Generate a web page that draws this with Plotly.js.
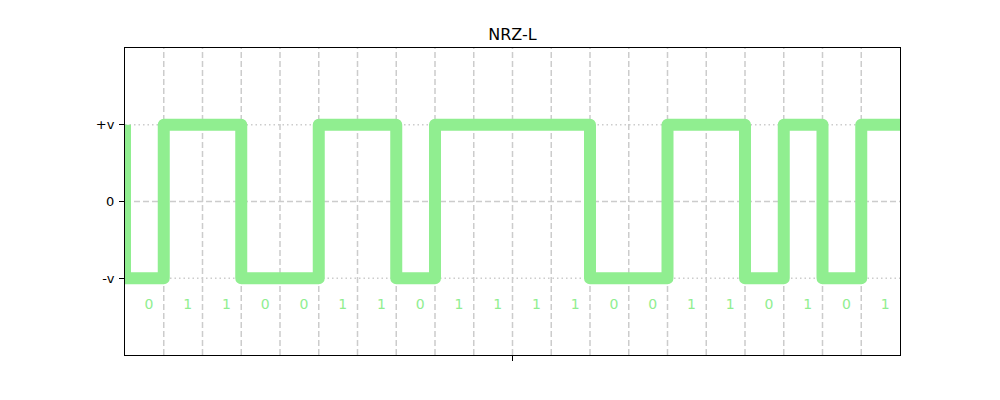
<!DOCTYPE html>
<html>
<head>
<meta charset="utf-8">
<script src="https://cdn.plot.ly/plotly-3.0.1.min.js"></script>
<style>
html,body{margin:0;padding:0;background:#fff;}
#chart{width:1000px;height:400px;}
.scatterlayer .js-line{stroke-linejoin:round;}
</style>
</head>
<body>
<div id="chart"></div>
<script>
// Data
const bits = [0,1,1,0,0,1,1,0,1,1,1,1,0,0,1,1,0,1,0,1];
const levelHigh = 1;
const levelLow = -1;
const startLevel = 1;
const yTickVals = [1, 0, -1];
const yTickText = ['+v', '0', '-v'];
const bitLabelY = -1.35;
const chartTitle = 'NRZ-L';

// Build step signal
const sigX = [0];
const sigY = [startLevel];
bits.forEach((b, i) => { sigX.push(i); sigY.push(b ? levelHigh : levelLow); });
sigX.push(bits.length);
sigY.push(bits[bits.length - 1] ? levelHigh : levelLow);

const labX = bits.map((b, i) => i + 0.5);
const labY = bits.map(() => bitLabelY);
const labT = bits.map(b => String(b));

const green = '#90ee90';
const gridCol = '#cccccc';

const shapes = [];
for (let i = 1; i < bits.length; i++) {
  shapes.push({type:'line', xref:'x', yref:'paper', x0:i, x1:i, y0:0, y1:1,
    line:{color:gridCol, width:1.5, dash:'6px,3px'}, layer:'below'});
}
yTickVals.forEach(v => {
  shapes.push({type:'line', xref:'paper', yref:'y', x0:0, x1:1, y0:v, y1:v,
    line:{color:gridCol, width:1.5, dash: v === 0 ? '6px,3px' : '1.5px,3px'}, layer:'below'});
});

const traces = [
  {x: sigX, y: sigY, mode:'lines', line:{shape:'hv', color:green, width:12}, hoverinfo:'skip'},
  {x: labX, y: labY, mode:'text', text: labT, textposition:'middle right',
   marker:{size:1}, textfont:{color:green, size:14, family:'DejaVu Sans'}, hoverinfo:'skip'}
];

const layout = {
  width:1000, height:400,
  margin:{l:125, r:100, t:48, b:45},
  paper_bgcolor:'#fff', plot_bgcolor:'#fff',
  showlegend:false,
  title:{text:chartTitle, x:0.5125, xanchor:'center', y:0.915, yanchor:'middle',
    font:{family:'DejaVu Sans', size:16, color:'#000'}},
  xaxis:{range:[0, bits.length], showgrid:false, zeroline:false,
    showline:true, mirror:true, linecolor:'#000', linewidth:1,
    tickmode:'array', tickvals:[bits.length/2], ticktext:[''],
    ticks:'outside', ticklen:5, tickcolor:'#000', tickwidth:1},
  yaxis:{range:[-2, 2], showgrid:false, zeroline:false,
    showline:true, mirror:true, linecolor:'#000', linewidth:1,
    tickmode:'array', tickvals:yTickVals, ticktext:yTickText,
    ticks:'outside', ticklen:5, tickcolor:'#000', tickwidth:1, ticklabelstandoff:2,
    tickfont:{family:'DejaVu Sans', size:13, color:'#000'}},
  shapes: shapes
};

Plotly.newPlot('chart', traces, layout, {displayModeBar:false, staticPlot:true});
</script>
</body>
</html>
